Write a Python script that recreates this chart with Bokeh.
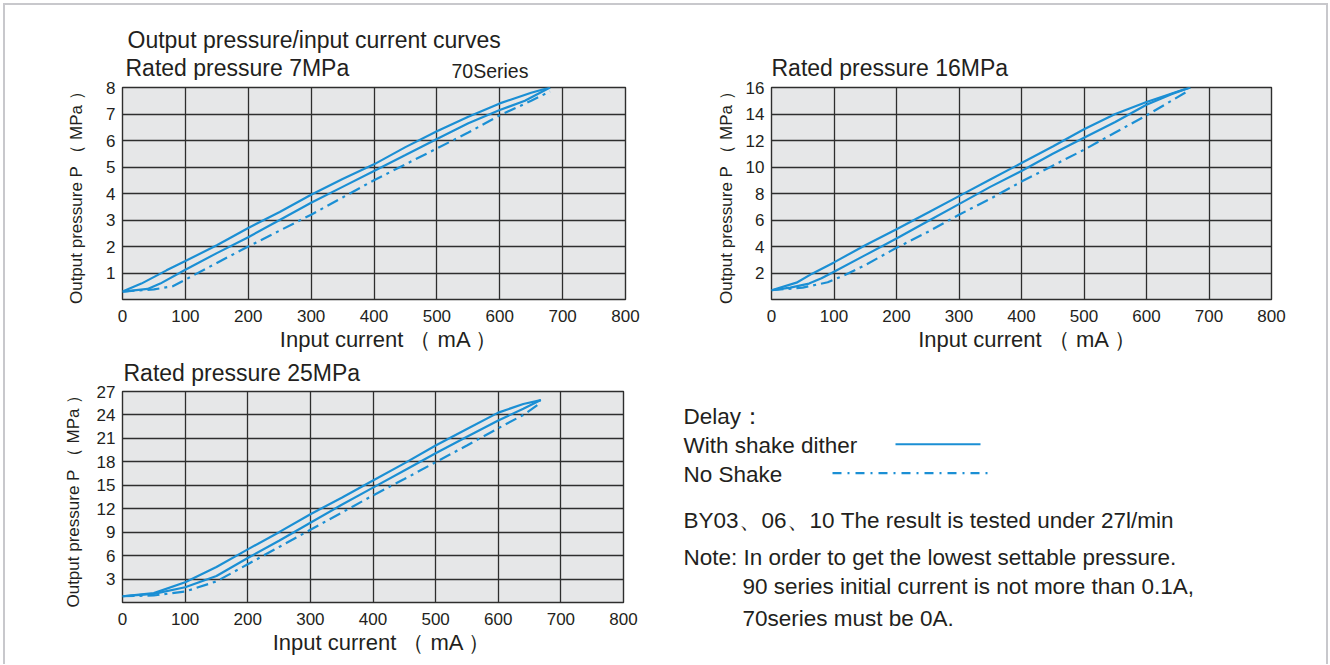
from bokeh.plotting import figure
from bokeh.models import Range1d, FixedTicker, Title
from bokeh.layouts import row, column
from bokeh.embed import file_html
from bokeh.resources import INLINE
from bokeh.core.properties import value

FONT = "Liberation Sans"
BLUE = "#1b8fd4"
TXT = "#231f20"
NB = "\u00a0"

# ---------------- data ----------------
current_ticks = [0, 100, 200, 300, 400, 500, 600, 700, 800]

# 7 MPa
c7_up_x = [0, 30, 70, 100, 150, 200, 250, 300, 350, 400, 450, 500, 550, 600, 650, 680]
c7_up_y = [0.3, 0.6, 1.1, 1.45, 2.05, 2.7, 3.3, 3.95, 4.55, 5.1, 5.75, 6.35, 6.9, 7.4, 7.8, 8.0]
c7_lo_x = [0, 40, 60, 100, 150, 200, 250, 300, 350, 400, 450, 500, 550, 600, 640, 680]
c7_lo_y = [0.3, 0.4, 0.6, 1.12, 1.75, 2.35, 3.0, 3.65, 4.25, 4.85, 5.45, 6.06, 6.65, 7.15, 7.5, 8.0]
c7_ns_x = [0, 50, 80, 100, 150, 200, 250, 300, 350, 400, 450, 500, 550, 600, 650, 680]
c7_ns_y = [0.3, 0.38, 0.5, 0.75, 1.38, 2.0, 2.6, 3.2, 3.85, 4.5, 5.1, 5.7, 6.3, 6.95, 7.5, 7.85]
c7_ticks = [1, 2, 3, 4, 5, 6, 7, 8]

# 16 MPa
c16_up_x = [0, 40, 65, 100, 150, 200, 250, 300, 350, 400, 450, 500, 550, 600, 650, 670]
c16_up_y = [0.7, 1.27, 1.95, 2.8, 4.1, 5.3, 6.55, 7.8, 9.05, 10.3, 11.55, 12.85, 14.0, 14.9, 15.7, 16.0]
c16_lo_x = [0, 30, 60, 80, 100, 150, 200, 250, 300, 350, 400, 450, 500, 550, 600, 640, 670]
c16_lo_y = [0.7, 0.9, 1.2, 1.6, 2.1, 3.35, 4.6, 5.9, 7.2, 8.5, 9.7, 11.0, 12.2, 13.4, 14.7, 15.5, 16.0]
c16_ns_x = [0, 50, 90, 120, 150, 200, 250, 300, 350, 400, 450, 500, 550, 600, 640, 665]
c16_ns_y = [0.7, 0.9, 1.3, 1.9, 2.6, 3.9, 5.1, 6.4, 7.6, 8.9, 10.1, 11.3, 12.6, 13.9, 15.0, 15.7]
c16_ticks = [2, 4, 6, 8, 10, 12, 14, 16]

# 25 MPa
c25_up_x = [0, 50, 100, 150, 200, 250, 300, 350, 400, 450, 500, 550, 600, 640, 668]
c25_up_y = [0.8, 1.2, 2.6, 4.55, 6.8, 9.0, 11.3, 13.4, 15.6, 17.8, 20.1, 22.2, 24.3, 25.4, 25.9]
c25_lo_x = [0, 50, 100, 150, 200, 250, 300, 350, 400, 450, 500, 550, 600, 640, 668]
c25_lo_y = [0.8, 1.1, 1.95, 3.4, 5.7, 7.9, 10.2, 12.5, 14.7, 16.9, 19.1, 21.2, 23.3, 24.8, 25.9]
c25_ns_x = [0, 50, 100, 150, 200, 250, 300, 350, 400, 450, 500, 550, 600, 640, 665]
c25_ns_y = [0.8, 0.9, 1.4, 2.7, 4.9, 7.1, 9.3, 11.5, 13.7, 15.8, 17.95, 20.1, 22.3, 24.0, 25.4]
c25_ticks = [3, 6, 9, 12, 15, 18, 21, 24, 27]

x_label = "Input current （ mA ）"
y_label = "Output pressure P （ MPa ）"

title_main = "Output pressure/input current curves"
title_7 = "Rated pressure 7MPa"
series_7 = "70Series"
title_16 = "Rated pressure 16MPa"
title_25 = "Rated pressure 25MPa"

legend_texts = ["Delay：", "With shake dither", "No Shake",
                "BY03、06、10 The result is tested under 27l/min",
                "Note: In order to get the lowest settable pressure.",
                "90 series initial current is not more than 0.1A,"]
last_note = "70series must be 0A."

DASH = "12 5 3 5"


def make_chart(w, h, bl, br, bt, bb, ymax, yticks, curves, ylab_standoff, xpad):
    p = figure(width=w, height=h, output_backend="svg", toolbar_location=None,
               title=None,
               x_range=Range1d(0, 800), y_range=Range1d(0, ymax),
               min_border_left=bl, min_border_right=br, min_border_top=bt,
               min_border_bottom=bb)
    p.background_fill_color = "#e6e7e8"
    p.border_fill_color = None
    p.outline_line_color = "#2e2e2e"
    p.outline_line_width = 1.4
    p.xaxis.ticker = FixedTicker(ticks=current_ticks)
    p.yaxis.ticker = FixedTicker(ticks=yticks)
    for g in (p.xgrid, p.ygrid):
        g.grid_line_color = "#2e2e2e"
        g.grid_line_width = 1.3
    for ax in (p.xaxis, p.yaxis):
        ax.axis_line_color = None
        ax.major_tick_line_color = None
        ax.minor_tick_line_color = None
        ax.major_tick_out = 0
        ax.major_tick_in = 0
        ax.minor_tick_out = 0
        ax.major_label_text_font = FONT
        ax.major_label_text_font_size = "17px"
        ax.major_label_text_color = TXT
        ax.axis_label_text_font = FONT
        ax.axis_label_text_font_style = "normal"
        ax.axis_label_text_color = TXT
    p.xaxis.major_label_standoff = 10
    p.yaxis.major_label_standoff = 7
    p.xaxis.axis_label = NB * xpad + x_label
    p.xaxis.axis_label_text_font_size = "22px"
    p.xaxis.axis_label_standoff = 2
    p.yaxis.axis_label = y_label
    p.yaxis.axis_label_text_font_size = "17px"
    p.yaxis.axis_label_standoff = ylab_standoff
    for (xs, ys, dash) in curves:
        p.line(xs, ys, line_color=BLUE, line_width=2.2, line_dash=dash)
    return p


def text_strip(w, h, bl, br, x0, x1, y0, y1):
    # frame spans [x0, x1] x [y0, y1] in page pixel coordinates (y downwards)
    p = figure(width=w, height=h, output_backend="svg", toolbar_location=None,
               title=None, x_axis_type=None, y_axis_type=None,
               x_range=Range1d(x0, x1), y_range=Range1d(y1, y0),
               min_border_left=bl, min_border_right=br,
               min_border_top=0, min_border_bottom=0)
    p.background_fill_color = None
    p.border_fill_color = None
    p.outline_line_color = None
    return p


def put_text(p, xs, ys, texts, size):
    p.text(x=xs, y=ys, text=texts, text_font=value(FONT), text_font_size=size,
           text_color=TXT, text_baseline="middle", text_align="left")


# ---- strip A: titles above the top charts (page y 0..80)
t1 = text_strip(690, 80, 122, 65, 122, 625, 0, 80)
put_text(t1, [127, 125], [39, 67], [title_main, title_7], "23px")
put_text(t1, [451], [70], [series_7], "19.5px")
t2 = text_strip(638, 80, 81, 57, 771, 1271, 0, 80)
put_text(t2, [771], [67], [title_16], "23px")

# ---- row B: top charts (page y 80..355)
f1 = make_chart(690, 275, 122, 65, 7, 56, 8, c7_ticks,
                [(c7_up_x, c7_up_y, "solid"), (c7_lo_x, c7_lo_y, "solid"),
                 (c7_ns_x, c7_ns_y, DASH)], 17, 5)
f2 = make_chart(638, 275, 81, 57, 7, 56, 16, c16_ticks,
                [(c16_up_x, c16_up_y, "solid"), (c16_lo_x, c16_lo_y, "solid"),
                 (c16_ns_x, c16_ns_y, DASH)], 7, 2)

# ---- row C: bottom chart and notes (page y 355..664)
f3 = make_chart(660, 309, 122, 37, 35, 62, 27, c25_ticks,
                [(c25_up_x, c25_up_y, "solid"), (c25_lo_x, c25_lo_y, "solid"),
                 (c25_ns_x, c25_ns_y, DASH)], 11, 3)
f3.add_layout(Title(text=title_25, align="left", offset=1, standoff=8,
                    vertical_align="top", text_line_height=1.0,
                    text_font=FONT, text_font_size="23px",
                    text_font_style="normal", text_color=TXT), "above")

f4 = figure(width=668, height=309, output_backend="svg", toolbar_location=None,
            title=None, x_axis_type=None, y_axis_type=None,
            x_range=Range1d(660, 1328), y_range=Range1d(602, 390),
            min_border_left=0, min_border_right=0,
            min_border_top=35, min_border_bottom=62)
f4.background_fill_color = None
f4.border_fill_color = None
f4.outline_line_color = None
put_text(f4, [683, 683, 683, 683, 683, 742], [415, 444, 473, 520, 557, 586],
         legend_texts, "22.5px")
f4.line([895, 980], [443, 443], line_color=BLUE, line_width=2.2)
f4.line([832, 993], [472, 472], line_color=BLUE, line_width=2.2, line_dash="9 6 2 6")
f4.add_layout(Title(text=last_note, align="left", offset=82, standoff=2,
                    text_line_height=1.0,
                    text_font=FONT, text_font_size="22.5px",
                    text_font_style="normal", text_color=TXT), "below")

g = "linear-gradient(#c8c8cc,#c8c8cc)"
bg = (f"{g} 3px 3px / 1325px 2px no-repeat, "
      f"{g} 3px 3px / 2px 700px no-repeat, "
      f"{g} 1326px 3px / 2px 700px no-repeat, #ffffff")

layout = column(row(t1, t2), row(f1, f2), row(f3, f4),
                styles={"background": bg})

open("out.html", "w").write(file_html(layout, INLINE))
